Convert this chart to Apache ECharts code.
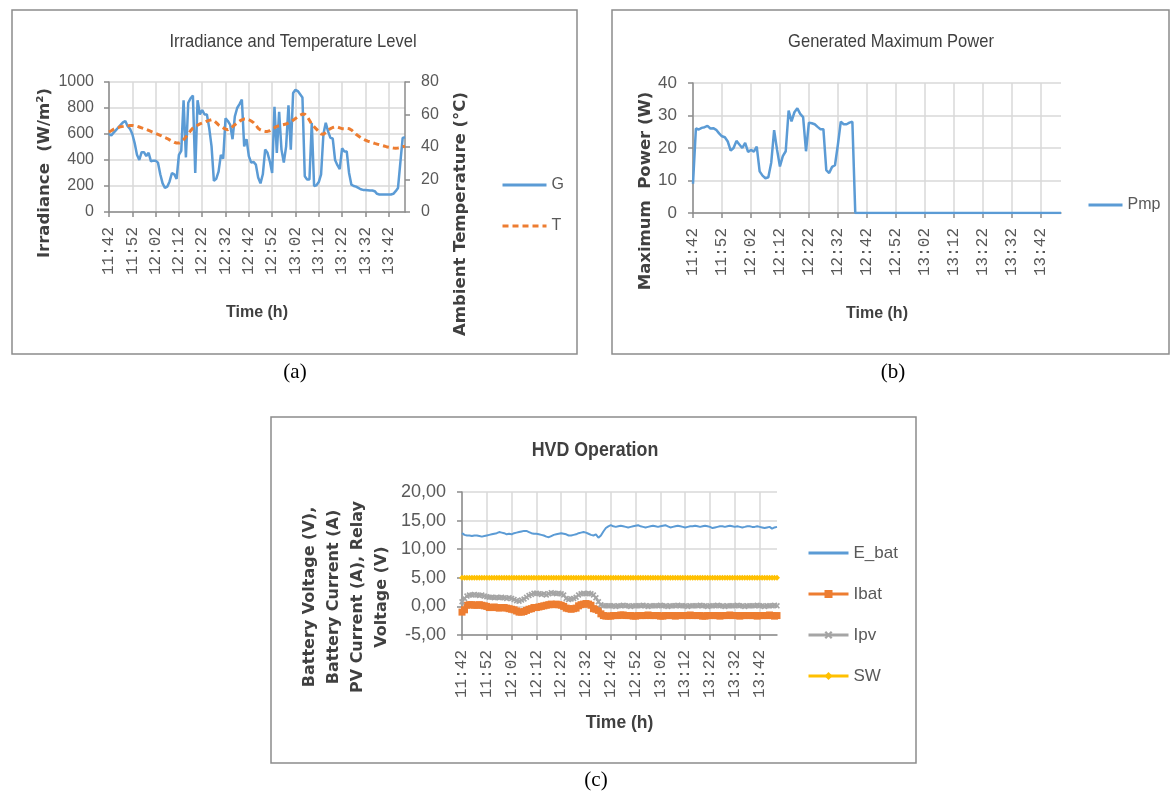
<!DOCTYPE html>
<html>
<head>
<meta charset="utf-8">
<title>Irradiance, power and HVD operation</title>
<script src="https://cdn.jsdelivr.net/npm/echarts@6.0.0/dist/echarts.min.js"></script>
<style>
  html, body { margin: 0; padding: 0; background: #ffffff; }
  #chart { width: 1171px; height: 796px; }
</style>
</head>
<body>
<div id="chart"></div>
<script>
// one sample per minute, 11:42 .. 13:49
const times = [
  '11:42','11:43','11:44','11:45','11:46','11:47','11:48','11:49','11:50','11:51',
  '11:52','11:53','11:54','11:55','11:56','11:57','11:58','11:59','12:00','12:01',
  '12:02','12:03','12:04','12:05','12:06','12:07','12:08','12:09','12:10','12:11',
  '12:12','12:13','12:14','12:15','12:16','12:17','12:18','12:19','12:20','12:21',
  '12:22','12:23','12:24','12:25','12:26','12:27','12:28','12:29','12:30','12:31',
  '12:32','12:33','12:34','12:35','12:36','12:37','12:38','12:39','12:40','12:41',
  '12:42','12:43','12:44','12:45','12:46','12:47','12:48','12:49','12:50','12:51',
  '12:52','12:53','12:54','12:55','12:56','12:57','12:58','12:59','13:00','13:01',
  '13:02','13:03','13:04','13:05','13:06','13:07','13:08','13:09','13:10','13:11',
  '13:12','13:13','13:14','13:15','13:16','13:17','13:18','13:19','13:20','13:21',
  '13:22','13:23','13:24','13:25','13:26','13:27','13:28','13:29','13:30','13:31',
  '13:32','13:33','13:34','13:35','13:36','13:37','13:38','13:39','13:40','13:41',
  '13:42','13:43','13:44','13:45','13:46','13:47','13:48','13:49'
];

// (a) irradiance G (W/m2) and ambient temperature T (C)
const irradiance = [
  600, 590, 610, 630, 650, 670, 690, 700, 660, 640,
  600, 530, 440, 400, 460, 460, 430, 455, 390, 395,
  395, 380, 290, 220, 185, 195, 235, 300, 290, 255,
  440, 470, 860, 420, 840, 875, 895, 300, 860, 750,
  785, 750, 750, 645, 505, 240, 255, 310, 440, 410,
  720, 700, 670, 560, 735, 800, 830, 865, 505, 560,
  430, 380, 385, 365, 265, 220, 290, 480, 455, 390,
  300, 810, 455, 770, 480, 380, 505, 820, 480, 915,
  940, 930, 905, 880, 275, 250, 250, 685, 200, 205,
  230, 290, 600, 686, 620, 570, 565, 400, 360, 330,
  490, 466, 466, 300, 210, 200, 195, 185, 175, 170,
  170, 168, 165, 165, 160, 140, 135, 135, 135, 135,
  135, 135, 140, 160, 185, 380, 570, 575
];
const temperature = [
  49.2, 50, 51, 51.7, 52, 52.5, 52.7, 53, 53, 53.2,
  53.3, 53, 52.8, 52.3, 51.8, 51.3, 50.8, 50.2, 49.6, 49,
  48.4, 47.8, 47.2, 46.5, 45.8, 45.2, 44.4, 43.6, 42.9, 42.4,
  42.4, 43.2, 44.5, 46.2, 48, 50, 51.7, 52.6, 53.4, 54.2,
  54.7, 55.3, 55.9, 56.4, 56.8, 56.2, 55, 53.6, 52.7, 51.8,
  51, 50.6, 51.5, 52.5, 53.7, 54.8, 55.9, 56.7, 57.2, 57.2,
  56.8, 56, 55, 53.5, 51.5, 50.5, 49.9, 49.6, 49.6, 50,
  50.8, 51.8, 52.7, 53.1, 53.5, 53.8, 54.1, 54.8, 55.6, 56.5,
  57.5, 58.6, 59.6, 60.3, 60.2, 58.8, 56.5, 54, 52.5, 51,
  49.5, 48, 47.8, 49, 50.3, 51.3, 52, 52.4, 52.3, 51.8,
  51.3, 51.2, 51.5, 51.3, 50.5, 49.2, 47.8, 46.8, 45.8, 45,
  44.2, 43.6, 43.2, 42.7, 42.2, 41.8, 41.4, 41, 40.6, 40.2,
  39.9, 39.6, 39.4, 39.3, 39.4, 39.7, 40.2, 40.4
];

// (b) generated maximum power Pmp (W)
const maxPower = [
  9, 26, 25.7, 26.2, 26.4, 26.8, 26, 26.1, 25.6, 24.5,
  23.6, 23.3, 22, 19.2, 20, 22.2, 21.1, 20, 21.6, 18.8,
  19.4, 18.9, 20.4, 12.8, 11.5, 10.7, 11, 15.5, 25.5, 19.5,
  14.3, 17.5, 19, 31.5, 28.2, 31, 32.2, 30.5, 29.5, 19,
  27.8, 27.6, 27.3, 26.5, 25.8, 25.8, 13.2, 12.3, 14.2, 14.7,
  21, 28.1, 27.3, 27.3, 27.8, 28.1, 0, 0, 0, 0,
  0, 0, 0, 0, 0, 0, 0, 0, 0, 0,
  0, 0, 0, 0, 0, 0, 0, 0, 0, 0,
  0, 0, 0, 0, 0, 0, 0, 0, 0, 0,
  0, 0, 0, 0, 0, 0, 0, 0, 0, 0,
  0, 0, 0, 0, 0, 0, 0, 0, 0, 0,
  0, 0, 0, 0, 0, 0, 0, 0, 0, 0,
  0, 0, 0, 0, 0, 0, 0, 0
];

// (c) HVD operation
const batVoltage = [
  12.8, 12.5, 12.4, 12.4, 12.3, 12.4, 12.4, 12.3, 12.2, 12.3,
  12.4, 12.5, 12.6, 12.7, 12.8, 13.0, 12.9, 12.8, 12.6, 12.7,
  12.6, 12.8, 12.9, 13.0, 13.1, 13.2, 13.2, 13.0, 12.8, 12.7,
  12.7, 12.6, 12.5, 12.4, 12.2, 12.1, 12.3, 12.5, 12.6, 12.7,
  12.8, 12.7, 12.6, 12.4, 12.4, 12.5, 12.6, 12.8, 12.9, 13.0,
  12.9, 12.7, 12.5, 12.4, 12.6, 12.0, 12.4, 13.1, 13.7, 14.0,
  14.2, 14.0, 13.9, 14.0, 14.1, 14.0, 13.9, 13.8, 13.9, 14.0,
  14.1, 14.2, 14.0, 13.9, 13.8, 13.9, 14.0, 14.1, 14.0, 13.9,
  14.0, 14.1, 14.2, 14.0, 13.8, 13.9, 14.0, 14.1, 14.0, 13.9,
  13.8, 13.9, 14.0, 14.0, 14.1, 14.0, 13.9, 14.0, 14.1, 14.0,
  13.9, 13.7, 13.8, 13.9, 14.0, 14.0, 13.9, 14.0, 14.1, 14.0,
  13.9, 14.0, 13.9, 13.8, 13.9, 14.0, 14.0, 13.9, 13.9, 14.0,
  13.9, 13.8, 13.7, 13.8, 13.9, 13.6, 13.8, 13.9
];
const batCurrent = [
  -1.0, -0.6, 0.2, 0.3, 0.3, 0.2, 0.2, 0.3, 0.2, 0.1,
  0.0, -0.2, -0.2, -0.1, -0.2, -0.3, -0.2, -0.2, -0.3, -0.4,
  -0.5, -0.6, -0.8, -1.0, -1.0, -0.9, -0.7, -0.5, -0.4, -0.2,
  -0.2, -0.1, 0.0, 0.1, 0.2, 0.3, 0.4, 0.3, 0.4, 0.3,
  0.2, 0.0, -0.3, -0.4, -0.5, -0.4, -0.3, 0.1, 0.3, 0.4,
  0.5, 0.4, 0.2, -0.4, -0.5, -0.7, -1.3, -1.6, -1.7, -1.7,
  -1.7, -1.6, -1.6, -1.6, -1.5, -1.5, -1.6, -1.6, -1.6, -1.7,
  -1.7, -1.6, -1.6, -1.6, -1.6, -1.5, -1.6, -1.6, -1.6, -1.6,
  -1.7, -1.7, -1.6, -1.6, -1.6, -1.6, -1.7, -1.6, -1.6, -1.6,
  -1.6, -1.6, -1.5, -1.6, -1.6, -1.6, -1.6, -1.7, -1.7, -1.6,
  -1.6, -1.6, -1.6, -1.6, -1.7, -1.6, -1.6, -1.6, -1.5, -1.6,
  -1.6, -1.6, -1.7, -1.6, -1.6, -1.6, -1.6, -1.6, -1.6, -1.7,
  -1.6, -1.6, -1.6, -1.6, -1.5, -1.6, -1.7, -1.6
];
const pvCurrent = [
  0.8, 1.4, 1.8, 2.0, 2.0, 2.1, 2.0, 1.9, 2.0, 1.8,
  1.7, 1.6, 1.6, 1.5, 1.6, 1.5, 1.6, 1.5, 1.4, 1.5,
  1.4, 1.2, 1.0, 0.9, 1.1, 1.3, 1.6, 1.9, 2.1, 2.3,
  2.3, 2.2, 2.1, 2.2, 2.0, 2.2, 2.4, 2.3, 2.2, 2.3,
  2.2, 2.0, 1.4, 1.2, 1.3, 1.4, 1.6, 2.0, 2.2, 2.3,
  2.2, 2.3, 2.2, 2.0, 1.5, 0.8, 0.3, 0.1, 0.1, 0.1,
  0.1, 0.1, 0.0, 0.1, 0.1, 0.2, 0.1, 0.1, 0.0, 0.1,
  0.1, 0.1, 0.1, 0.2, 0.1, 0.0, 0.1, 0.1, 0.1, 0.1,
  0.2, 0.1, 0.1, 0.0, 0.1, 0.1, 0.1, 0.2, 0.1, 0.1,
  0.1, 0.0, 0.1, 0.1, 0.1, 0.1, 0.2, 0.1, 0.1, 0.0,
  0.1, 0.1, 0.1, 0.2, 0.1, 0.1, 0.0, 0.1, 0.1, 0.1,
  0.1, 0.2, 0.1, 0.1, 0.0, 0.1, 0.1, 0.1, 0.1, 0.2,
  0.1, 0.1, 0.0, 0.1, 0.1, 0.1, 0.2, 0.1
];
const relaySW = [
  5, 5, 5, 5, 5, 5, 5, 5, 5, 5, 5, 5, 5, 5, 5, 5,
  5, 5, 5, 5, 5, 5, 5, 5, 5, 5, 5, 5, 5, 5, 5, 5,
  5, 5, 5, 5, 5, 5, 5, 5, 5, 5, 5, 5, 5, 5, 5, 5,
  5, 5, 5, 5, 5, 5, 5, 5, 5, 5, 5, 5, 5, 5, 5, 5,
  5, 5, 5, 5, 5, 5, 5, 5, 5, 5, 5, 5, 5, 5, 5, 5,
  5, 5, 5, 5, 5, 5, 5, 5, 5, 5, 5, 5, 5, 5, 5, 5,
  5, 5, 5, 5, 5, 5, 5, 5, 5, 5, 5, 5, 5, 5, 5, 5,
  5, 5, 5, 5, 5, 5, 5, 5, 5, 5, 5, 5, 5, 5, 5, 5
];

// value-axis ticks
const irrTicks = [0, 200, 400, 600, 800, 1000];
const tempTicks = [0, 20, 40, 60, 80];
const powerTicks = [0, 10, 20, 30, 40];
const hvdTicks = [-5, 0, 5, 10, 15, 20];

const sans = '"Liberation Sans", Arial, sans-serif';
const heavy = '"DejaVu Sans", Verdana, sans-serif';
const mono = '"Liberation Mono", monospace';
const serif = '"Liberation Serif", "Times New Roman", serif';
const gridCol = '#d9d9d9', axisCol = '#8c8c8c', txt = '#595959', dark = '#404040';
const blue = '#5B9BD5', orange = '#ED7D31', grey = '#A5A5A5', yellow = '#FFC000';
const xMark = 'path://M0,2L2,0L5,3L8,0L10,2L7,5L10,8L8,10L5,7L2,10L0,8L3,5Z';

function timeAxis(gi, gap, nameSize) {
  return {
    type: 'category', gridIndex: gi, data: times, boundaryGap: false,
    name: 'Time (h)', nameLocation: 'middle', nameGap: gap,
    nameTextStyle: { fontFamily: sans, fontSize: nameSize, fontWeight: 'bold', color: dark },
    axisLine: { onZero: false, lineStyle: { color: axisCol, width: 1.5 } },
    axisTick: { show: true, interval: 9, length: 5, lineStyle: { color: axisCol, width: 1.5 } },
    axisLabel: { interval: 9, rotate: 90, margin: 15, fontFamily: mono, fontSize: 16, color: txt },
    splitLine: { show: true, interval: 9, lineStyle: { color: gridCol, width: 1.5 } }
  };
}

function valueAxis(gi, ticks, o) {
  return {
    type: 'value', gridIndex: gi, position: o.pos || 'left',
    min: ticks[0], max: ticks[ticks.length - 1], interval: ticks[1] - ticks[0],
    axisLine: { show: true, onZero: false, lineStyle: { color: axisCol, width: 1.5 } },
    axisTick: { show: true, length: 5, lineStyle: { color: axisCol, width: 1.5 } },
    axisLabel: { margin: o.margin, fontFamily: sans, fontSize: o.size, color: txt,
                 formatter: o.fmt || (v => String(v)) },
    splitLine: { show: o.split !== false, lineStyle: { color: gridCol, width: 1.5 } }
  };
}

// free text; sx squeezes the face a little to look like the narrow original
function text(str, x, y, font, size, weight, color, rot, lh, sx) {
  return {
    type: 'text', x: x, y: y, rotation: rot || 0, scaleX: sx || 1, silent: true,
    style: { text: str, align: 'center', verticalAlign: 'middle', fontFamily: font,
             fontSize: size, fontWeight: weight, fill: color, lineHeight: lh || size + 4 }
  };
}

function box(x, y, w, h) {
  return { type: 'rect', silent: true, shape: { x: x, y: y, width: w, height: h },
           style: { fill: 'none', stroke: '#8c8c8c', lineWidth: 1.5 } };
}

const up = Math.PI / 2;
const legendText = (size) => ({ fontFamily: sans, fontSize: size, color: txt, lineHeight: 18 });
const lineOnly = (name) => ({ name: name, itemStyle: { opacity: 0 } });

const chart = echarts.init(document.getElementById('chart'), null, { renderer: 'canvas' });
chart.setOption({
  animation: false,
  backgroundColor: '#ffffff',
  grid: [
    { left: 109, top: 82, width: 296, height: 130, containLabel: false, outerBoundsMode: 'none' },
    { left: 693, top: 83, width: 368, height: 130, containLabel: false, outerBoundsMode: 'none' },
    { left: 462, top: 492, width: 315, height: 143, containLabel: false, outerBoundsMode: 'none' }
  ],
  xAxis: [timeAxis(0, 93, 16), timeAxis(1, 93, 16), timeAxis(2, 79, 17.5)],
  yAxis: [
    valueAxis(0, irrTicks, { margin: 15, size: 16 }),
    valueAxis(0, tempTicks, { pos: 'right', margin: 16, size: 16, split: false }),
    valueAxis(1, powerTicks, { margin: 16, size: 17 }),
    valueAxis(2, hvdTicks, { margin: 16, size: 18, fmt: v => v.toFixed(2).replace('.', ',') })
  ],
  legend: [
    { orient: 'vertical', left: 501, top: 176, padding: 0, itemWidth: 44, itemHeight: 18, itemGap: 23,
      lineStyle: { width: 3 },
      data: [lineOnly('G'), lineOnly('T')], textStyle: legendText(16), selectedMode: false },
    { orient: 'vertical', left: 1087, top: 196, padding: 0, itemWidth: 34, itemHeight: 18,
      lineStyle: { width: 3 },
      data: [lineOnly('Pmp')], textStyle: legendText(16), selectedMode: false },
    { orient: 'vertical', left: 807, top: 544, padding: 0, itemWidth: 40, itemHeight: 10, itemGap: 23,
      lineStyle: { width: 3 },
      data: [lineOnly('E_bat'), 'Ibat', 'Ipv', 'SW'], textStyle: legendText(17), selectedMode: false }
  ],
  series: [
    { name: 'G', type: 'line', xAxisIndex: 0, yAxisIndex: 0, data: irradiance, symbol: 'none',
      lineStyle: { color: blue, width: 2.5 }, itemStyle: { color: blue } },
    { name: 'T', type: 'line', xAxisIndex: 0, yAxisIndex: 1, data: temperature, symbol: 'none',
      lineStyle: { color: orange, width: 3, type: [6, 4] }, itemStyle: { color: orange } },
    { name: 'Pmp', type: 'line', xAxisIndex: 1, yAxisIndex: 2, data: maxPower, symbol: 'none',
      lineStyle: { color: blue, width: 2.5 }, itemStyle: { color: blue } },
    { name: 'E_bat', type: 'line', xAxisIndex: 2, yAxisIndex: 3, data: batVoltage, symbol: 'none',
      lineStyle: { color: blue, width: 2 }, itemStyle: { color: blue } },
    { name: 'Ibat', type: 'line', xAxisIndex: 2, yAxisIndex: 3, data: batCurrent,
      symbol: 'rect', symbolSize: 7, showAllSymbol: true,
      lineStyle: { color: orange, width: 2 }, itemStyle: { color: orange, borderWidth: 0 } },
    { name: 'Ipv', type: 'line', xAxisIndex: 2, yAxisIndex: 3, data: pvCurrent,
      symbol: xMark, symbolSize: 6, showAllSymbol: true,
      lineStyle: { color: grey, width: 2 }, itemStyle: { color: grey, borderWidth: 0 } },
    { name: 'SW', type: 'line', xAxisIndex: 2, yAxisIndex: 3, data: relaySW,
      symbol: 'diamond', symbolSize: 6, showAllSymbol: true,
      lineStyle: { color: yellow, width: 2 }, itemStyle: { color: yellow, borderWidth: 0 } }
  ],
  graphic: [
    box(12, 10, 565, 344),
    box(612, 10, 557, 344),
    box(271, 417, 645, 346),
    text('Irradiance and Temperature Level', 293, 42, sans, 19, 'normal', dark, 0, 0, 0.87),
    text('Generated Maximum Power', 891, 42, sans, 19, 'normal', dark, 0, 0, 0.87),
    text('HVD Operation', 595, 450, sans, 20, 'bold', dark, 0, 0, 0.89),
    text('Irradiance  (W/m²)', 45, 173, heavy, 16.5, 'bold', dark, up),
    text('Ambient Temperature (°C)', 461, 214, heavy, 16.5, 'bold', dark, up),
    text('Maximum  Power (W)', 646, 191, heavy, 16.5, 'bold', dark, up),
    text('Battery Voltage (V),\nBattery Current (A)\nPV Current (A), Relay\nVoltage (V)',
         346, 597, heavy, 16, 'bold', dark, up, 24),
    text('(a)', 295, 372, serif, 21, 'normal', '#000000'),
    text('(b)', 893, 372, serif, 21, 'normal', '#000000'),
    text('(c)', 596, 780, serif, 21, 'normal', '#000000')
  ]
});
</script>
</body>
</html>
